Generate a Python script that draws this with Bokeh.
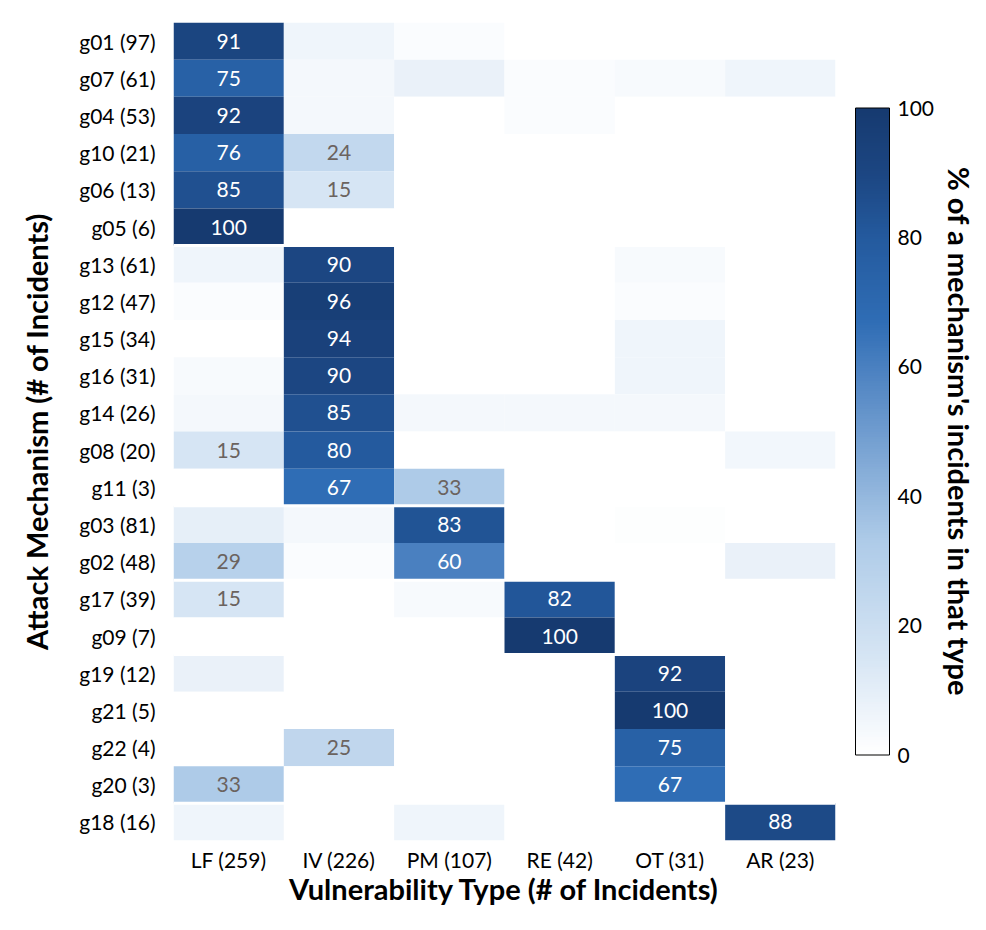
from bokeh.plotting import figure
from bokeh.models import (ColumnDataSource, LinearColorMapper, ColorBar, FixedTicker,
                          CategoricalAxis, FactorRange, Span)
from bokeh.core.properties import value
from bokeh.embed import file_html
from bokeh.resources import INLINE

# ---------------- data ----------------
mechanisms = ["g01 (97)", "g07 (61)", "g04 (53)", "g10 (21)", "g06 (13)", "g05 (6)",
              "g13 (61)", "g12 (47)", "g15 (34)", "g16 (31)", "g14 (26)", "g08 (20)", "g11 (3)",
              "g03 (81)", "g02 (48)",
              "g17 (39)", "g09 (7)",
              "g19 (12)", "g21 (5)", "g22 (4)", "g20 (3)",
              "g18 (16)"]
vuln_types = ["LF (259)", "IV (226)", "PM (107)", "RE (42)", "OT (31)", "AR (23)"]

lf  = [91, 75, 92, 76, 85, 100, 6, 2, 0, 3, 4, 15, 0, 9, 29, 15, 0, 8, 0, 0, 33, 6]
iv  = [6, 4, 4, 24, 15, 0, 90, 96, 94, 90, 85, 80, 67, 4, 2, 0, 0, 0, 0, 25, 0, 0]
pm  = [2, 8, 0, 0, 0, 0, 0, 0, 0, 0, 4, 0, 33, 83, 60, 3, 0, 0, 0, 0, 0, 6]
re_ = [0, 2, 2, 0, 0, 0, 0, 0, 0, 0, 4, 0, 0, 0, 0, 82, 100, 0, 0, 0, 0, 0]
ot  = [0, 3, 0, 0, 0, 0, 3, 2, 6, 6, 4, 0, 0, 1, 0, 0, 0, 92, 100, 75, 67, 0]
ar  = [0, 6, 0, 0, 0, 0, 0, 0, 0, 0, 0, 5, 0, 0, 8, 0, 0, 0, 0, 0, 0, 88]

group_sizes = [6, 7, 2, 2, 4, 1]
cb_ticks = [0, 20, 40, 60, 80, 100]

# ---------------- palette ----------------
anchors = [(0, "#ffffff"), (15, "#d6e5f4"), (33, "#aecbe8"), (60, "#4a80c0"),
           (67, "#2f6db5"), (80, "#245a9e"), (90, "#1c4682"), (100, "#163a70")]

def hex2rgb(h):
    return tuple(int(h[i:i + 2], 16) for i in (1, 3, 5))

palette = []
for k in range(256):
    t = k / 255 * 100
    for (a, ca), (b, cb) in zip(anchors[:-1], anchors[1:]):
        if a <= t <= b:
            f = (t - a) / (b - a)
            r1, g1, b1 = hex2rgb(ca)
            r2, g2, b2 = hex2rgb(cb)
            palette.append("#%02x%02x%02x" % (round(r1 + (r2 - r1) * f),
                                               round(g1 + (g2 - g1) * f),
                                               round(b1 + (b2 - b1) * f)))
            break

mapper = LinearColorMapper(palette=palette, low=0, high=100)

# ---------------- long-form table ----------------
cols = [lf, iv, pm, re_, ot, ar]
xs, ys, vals, txt, tcol = [], [], [], [], []
for ci, col in enumerate(cols):
    for ri, v in enumerate(col):
        xs.append(vuln_types[ci])
        ys.append(mechanisms[ri])
        vals.append(v)
        txt.append(str(v) if v >= 12 else "")
        tcol.append("white" if v >= 50 else "#6b635f")
src = ColumnDataSource(dict(x=xs, y=ys, v=vals, t=txt, tc=tcol))

FONT = "Lato"
TICK_SIZE = "21px"
TITLE_SIZE = "29px"

p = figure(x_range=vuln_types, y_range=list(reversed(mechanisms)),
           frame_width=662, frame_height=818,
           min_border_left=173, min_border_top=22, min_border_bottom=10, min_border_right=10,
           output_backend="svg", toolbar_location=None)
p.outline_line_color = None
p.grid.grid_line_color = None

p.rect(x="x", y="y", width=1, height=1, source=src,
       fill_color={"field": "v", "transform": mapper}, line_color=None)
p.text(x="x", y="y", text="t", source=src, text_color="tc",
       text_align="center", text_baseline="middle",
       text_font=value(FONT), text_font_size="21px")

# group separators
n = len(mechanisms)
pos = n
for g in group_sizes[:-1]:
    pos -= g
    p.add_layout(Span(location=pos, dimension="width", line_color="white", line_width=3))

for ax in (p.xaxis[0], p.yaxis[0]):
    ax.axis_line_color = None
    ax.major_tick_line_color = None
    ax.minor_tick_line_color = None
    ax.major_label_text_font = FONT
    ax.major_label_text_font_size = TICK_SIZE
    ax.major_label_text_color = "black"
    ax.axis_label_text_font = FONT
    ax.axis_label_text_font_style = "bold"
    ax.axis_label_text_font_size = TITLE_SIZE
    ax.axis_label_text_color = "black"

p.xaxis.axis_label = "Vulnerability Type (# of Incidents)"
p.yaxis.axis_label = "Attack Mechanism (# of Incidents)"
p.xaxis.major_label_standoff = 0
p.yaxis.major_label_standoff = 12
p.xaxis.axis_label_standoff = -4
p.yaxis.axis_label_standoff = 22

cbar = ColorBar(color_mapper=mapper, ticker=FixedTicker(ticks=cb_ticks),
                width=34, height=647, location="center",
                bar_line_color="black", bar_line_width=1,
                major_tick_line_color=None, minor_tick_line_color=None,
                major_label_text_font=FONT, major_label_text_font_size=TICK_SIZE,
                major_label_text_color="black",
                label_standoff=8, padding=20, margin=0,
                background_fill_color=None, border_line_color=None)
p.add_layout(cbar, "right")

p.extra_y_ranges = {"cb": FactorRange(factors=[" "])}
cax = CategoricalAxis(y_range_name="cb",
                      axis_label="% of a mechanism's incidents in that type",
                      axis_line_color=None, major_tick_line_color=None, minor_tick_line_color=None,
                      major_label_text_font_size="0px", major_label_standoff=0,
                      axis_label_text_font=FONT, axis_label_text_font_style="bold",
                      axis_label_text_font_size=TITLE_SIZE, axis_label_text_color="black",
                      axis_label_standoff=-22)
p.add_layout(cax, "right")

open("out.html", "w").write(file_html(p, INLINE))
